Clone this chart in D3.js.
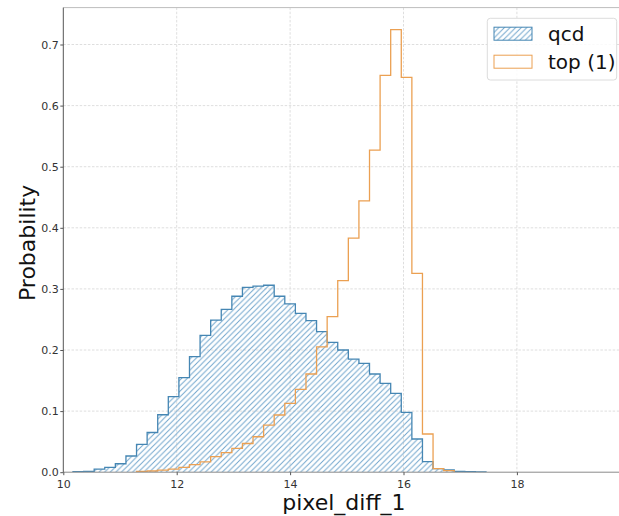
<!DOCTYPE html>
<html>
<head>
<meta charset="utf-8">
<script src="https://cdn.jsdelivr.net/npm/d3@7"></script>
<style>
  html, body { margin: 0; padding: 0; background: #fff; }
  svg { display: block; font-family: "DejaVu Sans", sans-serif; }
</style>
</head>
<body>
<svg id="chart" width="619" height="516"></svg>
<script>
// Histogram bins shared by both samples (density-normalised)
const binStart = 10.171;
const binWidth = 0.18677;

// qcd: probability density per bin
const qcdValues = [
  0.0008, 0.0015, 0.005, 0.008, 0.0138, 0.0265, 0.0455, 0.065, 0.094, 0.1236,
  0.1547, 0.189, 0.224, 0.249, 0.2666, 0.288, 0.3026, 0.3047, 0.306, 0.288,
  0.2755, 0.26, 0.248, 0.23, 0.2126, 0.2, 0.185, 0.178, 0.1607, 0.1455,
  0.129, 0.098, 0.0543, 0.0172, 0.006, 0.0036, 0.0012, 0.0008, 0.0005
];

// top (1): first filled bin index and densities from there on
const topFirstBin = 6;
const topValues = [
  0.0015, 0.002, 0.0035, 0.005, 0.008, 0.0125, 0.017, 0.0254, 0.032, 0.039,
  0.047, 0.058, 0.077, 0.0936, 0.1127, 0.1357, 0.1607, 0.205, 0.2545, 0.3134,
  0.383, 0.444, 0.527, 0.6496, 0.7242, 0.6463, 0.3255, 0.0625, 0.0057, 0.0025
];

const xTicks = [10, 12, 14, 16, 18];
const yTicks = [0.0, 0.1, 0.2, 0.3, 0.4, 0.5, 0.6, 0.7];
const seriesNames = ["qcd", "top (1)"];

const svg = d3.select("#chart");

const plotLeft = 63.3, plotTop = 7.6, plotBottom = 472.2;
const xMax = 19.85;
const yMax = 0.7242 * 1.05;

const x = d3.scaleLinear().domain([10, xMax]).range([plotLeft, plotLeft + (xMax - 10) * 56.7]);
const y = d3.scaleLinear().domain([0, yMax]).range([plotBottom, plotTop]);

const qcdLine = "#4586b3";
const qcdHatch = "#6da3cb";
const topLine = "#eba052";

const defs = svg.append("defs");
defs.append("clipPath").attr("id", "plotClip")
  .append("rect")
  .attr("x", plotLeft).attr("y", plotTop)
  .attr("width", 619 - plotLeft + 5).attr("height", plotBottom - plotTop);

const hs = 5.6;
const hatch = defs.append("pattern")
  .attr("id", "hatch")
  .attr("patternUnits", "userSpaceOnUse")
  .attr("width", hs).attr("height", hs);
hatch.append("path")
  .attr("d", `M0,${hs} L${hs},0 M${-hs/4},${hs/4} L${hs/4},${-hs/4} M${hs*3/4},${hs*5/4} L${hs*5/4},${hs*3/4}`)
  .attr("stroke", qcdHatch)
  .attr("stroke-width", 0.95)
  .attr("fill", "none");

// grid
const grid = svg.append("g");
grid.selectAll("line.gx").data(xTicks.filter(t => t > 10)).join("line")
  .attr("x1", d => x(d)).attr("x2", d => x(d))
  .attr("y1", plotTop).attr("y2", plotBottom)
  .attr("stroke", "#d6d6d6").attr("stroke-width", 0.8)
  .attr("stroke-dasharray", "2.5,1.6");
grid.selectAll("line.gy").data(yTicks.filter(t => t > 0)).join("line")
  .attr("x1", plotLeft).attr("x2", 619)
  .attr("y1", d => y(d)).attr("y2", d => y(d))
  .attr("stroke", "#d6d6d6").attr("stroke-width", 0.8)
  .attr("stroke-dasharray", "2.5,1.6");

// step outline for a run of bins
function stepPath(values, firstBin) {
  const p = d3.path();
  const e0 = binStart + firstBin * binWidth;
  p.moveTo(x(e0), y(0));
  values.forEach((v, i) => {
    const a = binStart + (firstBin + i) * binWidth;
    const b = a + binWidth;
    p.lineTo(x(a), y(v));
    p.lineTo(x(b), y(v));
  });
  const eN = binStart + (firstBin + values.length) * binWidth;
  p.lineTo(x(eN), y(0));
  return p.toString();
}

const plot = svg.append("g").attr("clip-path", "url(#plotClip)");

// qcd: hatched area with outline
plot.append("path")
  .attr("d", stepPath(qcdValues, 0) + "Z")
  .attr("fill", "url(#hatch)")
  .attr("stroke", "none");
plot.append("path")
  .attr("d", stepPath(qcdValues, 0))
  .attr("fill", "none")
  .attr("stroke", qcdLine)
  .attr("stroke-width", 1.3);

// top (1): open step outline
plot.append("path")
  .attr("d", stepPath(topValues, topFirstBin))
  .attr("fill", "none")
  .attr("stroke", topLine)
  .attr("stroke-width", 1.3);

// spines
svg.append("line").attr("x1", plotLeft).attr("x2", 619).attr("y1", plotTop).attr("y2", plotTop)
  .attr("stroke", "#bdbdbd").attr("stroke-width", 1);
svg.append("line").attr("x1", plotLeft).attr("x2", 619).attr("y1", plotBottom).attr("y2", plotBottom)
  .attr("stroke", "#8a8a8a").attr("stroke-width", 1);
svg.append("line").attr("x1", plotLeft).attr("x2", plotLeft).attr("y1", plotTop).attr("y2", plotBottom)
  .attr("stroke", "#555").attr("stroke-width", 1);

// axes
const xAxis = svg.append("g")
  .attr("transform", `translate(0,${plotBottom})`)
  .call(d3.axisBottom(x).tickValues(xTicks).tickFormat(d3.format("d")).tickSize(3).tickSizeOuter(0));
const yAxis = svg.append("g")
  .attr("transform", `translate(${plotLeft},0)`)
  .call(d3.axisLeft(y).tickValues(yTicks).tickFormat(d3.format(".1f")).tickSize(3).tickSizeOuter(0));
[xAxis, yAxis].forEach(g => {
  g.select(".domain").remove();
  g.selectAll(".tick line").attr("stroke", "#555");
  g.selectAll(".tick text")
    .attr("fill", "#333")
    .style("font-size", "11px")
    .style("font-family", "DejaVu Sans, sans-serif");
});
xAxis.selectAll(".tick text").attr("dy", "0.9em");
yAxis.selectAll(".tick text").attr("x", -4.5);

// axis labels
svg.append("text")
  .attr("x", x(14.95)).attr("y", 510)
  .attr("text-anchor", "middle")
  .style("font-size", "22px")
  .attr("fill", "#111")
  .text("pixel_diff_1");
svg.append("text")
  .attr("transform", `translate(35,${(plotTop + plotBottom) / 2 + 3}) rotate(-90)`)
  .attr("text-anchor", "middle")
  .style("font-size", "22px")
  .attr("fill", "#111")
  .text("Probability");

// legend
const legend = svg.append("g");
legend.append("rect")
  .attr("x", 487.3).attr("y", 18.3)
  .attr("width", 129.4).attr("height", 61.7)
  .attr("rx", 3)
  .attr("fill", "#fff").attr("fill-opacity", 0.85)
  .attr("stroke", "#dcdcdc").attr("stroke-width", 1);
const rows = [
  { fill: "url(#hatch)", stroke: qcdLine, cy: 33.7 },
  { fill: "none", stroke: topLine, cy: 61.7 }
];
rows.forEach((r, i) => {
  legend.append("rect")
    .attr("x", 494).attr("y", r.cy - 6.5)
    .attr("width", 38).attr("height", 13)
    .attr("fill", r.fill === "none" ? "#fff" : r.fill)
    .attr("stroke", r.stroke).attr("stroke-width", 1);
  legend.append("text")
    .attr("x", 548).attr("y", r.cy + 7)
    .style("font-size", "20px")
    .attr("fill", "#111")
    .text(seriesNames[i]);
});
</script>
</body>
</html>
